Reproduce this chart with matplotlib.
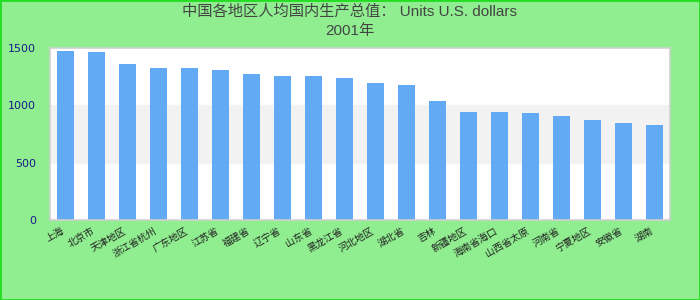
import matplotlib.pyplot as plt
from matplotlib.patches import Rectangle

plt.rcParams['font.family'] = ['Noto Sans CJK SC', 'DejaVu Sans']

title = "中国各地区人均国内生产总值： Units U.S. dollars\n2001年"
regions = ["上海", "北京市", "天津地区", "浙江省杭州", "广东地区", "江苏省", "福建省",
           "辽宁省", "山东省", "黑龙江省", "河北地区", "湖北省", "吉林", "新疆地区",
           "海南省海口", "山西省太原", "河南省", "宁夏地区", "安徽省", "湖南"]
values = [1473, 1465, 1360, 1326, 1326, 1308, 1275, 1258, 1256, 1238,
          1196, 1178, 1038, 943, 942, 934, 908, 873, 848, 830]
yticks = [0, 500, 1000, 1500]

fig = plt.figure(figsize=(7, 3), dpi=100, facecolor="#90ee90")
fig.patches.append(Rectangle((0, 0), 1, 1, transform=fig.transFigure, fill=False,
                             edgecolor="#22dd22", linewidth=2))
ax = fig.add_axes([0.0714, 0.267, 0.886, 0.573])
ax.set_facecolor("white")
ax.axhspan(500, 1000, color="#f2f2f2", zorder=0)

x = range(len(values))
ax.bar(x, values, width=0.55, color="#63aaf5", zorder=2)

ax.set_xlim(-0.5, len(values) - 0.5)
ax.set_ylim(0, 1500)
ax.set_yticks(yticks)
ax.set_yticklabels([str(v) for v in yticks], family="DejaVu Sans")
ax.set_xticks(list(x))
ax.set_xticklabels(regions, rotation=30, ha="right", fontsize=7, color="#222222")
ax.tick_params(axis="y", length=0, labelsize=8, labelcolor="#1a1a8c", pad=10)
ax.tick_params(axis="x", length=0, pad=4)
for s in ax.spines.values():
    s.set_color("#d0d0d0")
    s.set_linewidth(1.2)

fig.suptitle(title, y=0.985, fontsize=11, color="#444444", linespacing=1.45,
             family=["Liberation Sans", "Noto Sans CJK SC"])

fig.savefig("out.png", dpi=100, facecolor=fig.get_facecolor())
